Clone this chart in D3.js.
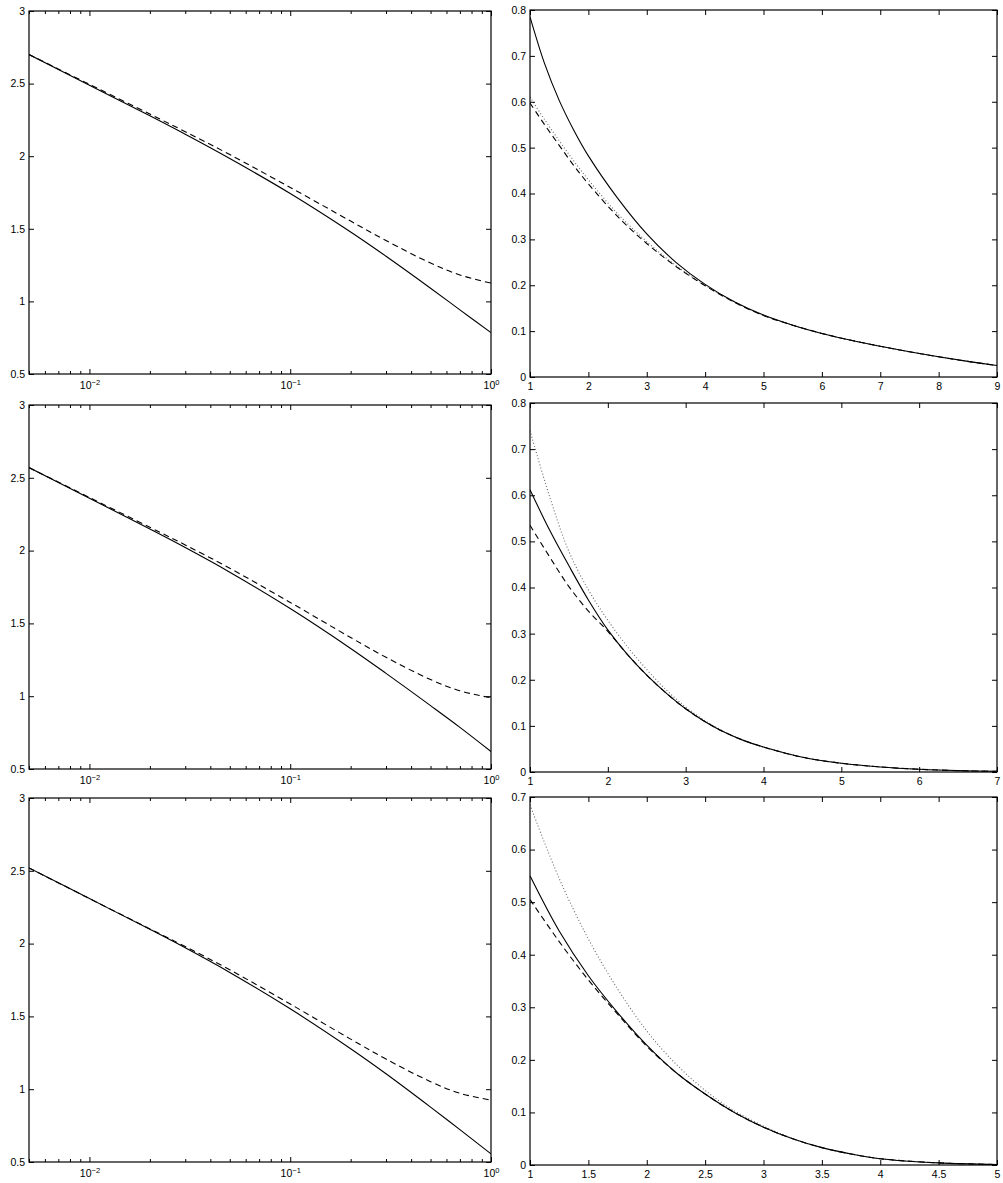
<!DOCTYPE html>
<html>
<head>
<meta charset="utf-8">
<script src="https://cdn.jsdelivr.net/npm/d3@7"></script>
<style>
body { margin: 0; background: #fff; }
</style>
</head>
<body>
<div id="fig"></div>
<script>
// ---- data ----
// left column: log x axis
var logX = [0.005, 0.01, 0.02, 0.03, 0.05, 0.1, 0.2, 0.3, 0.5, 0.7, 1];
var left1Solid  = [2.70, 2.489, 2.278, 2.151, 1.984, 1.743, 1.478, 1.311, 1.091, 0.942, 0.785];
var left1Dashed = [2.70, 2.495, 2.290, 2.169, 2.011, 1.785, 1.553, 1.419, 1.264, 1.182, 1.126];
var left2Solid  = [2.57, 2.359, 2.148, 2.021, 1.852, 1.602, 1.328, 1.157, 0.935, 0.786, 0.62];
var left2Dashed = [2.57, 2.365, 2.160, 2.039, 1.879, 1.644, 1.403, 1.267, 1.114, 1.037, 0.989];
var left3Solid  = [2.52, 2.309, 2.098, 1.971, 1.802, 1.552, 1.278, 1.106, 0.877, 0.722, 0.556];
var left3Dashed = [2.52, 2.309, 2.101, 1.980, 1.820, 1.585, 1.344, 1.207, 1.052, 0.972, 0.925];
var leftYTicks = [0.5, 1, 1.5, 2, 2.5, 3];
var leftXTicks = [0.01, 0.1, 1];
var leftXExp = ["\u22122", "\u22121", "0"];

// right column: linear x axis
var right1X      = [1, 1.25, 1.5, 1.75, 2, 2.5, 3, 3.5, 4, 4.5, 5, 5.5, 6, 6.5, 7, 7.5, 8, 8.5, 9];
var right1Solid  = [0.785, 0.683, 0.603, 0.538, 0.482, 0.39, 0.312, 0.25, 0.202, 0.164, 0.135, 0.113, 0.095, 0.08, 0.067, 0.055, 0.044, 0.034, 0.025];
var right1Dashed = [0.597, 0.55, 0.505, 0.461, 0.421, 0.35, 0.291, 0.241, 0.199, 0.163, 0.134, 0.113, 0.095, 0.08, 0.067, 0.055, 0.044, 0.034, 0.025];
var right1Dotted = [0.61, 0.561, 0.515, 0.471, 0.43, 0.356, 0.295, 0.243, 0.2, 0.164, 0.134, 0.113, 0.095, 0.08, 0.067, 0.055, 0.044, 0.034, 0.025];
var right1XTicks = [1, 2, 3, 4, 5, 6, 7, 8, 9];
var right1YTicks = [0, 0.1, 0.2, 0.3, 0.4, 0.5, 0.6, 0.7, 0.8];

var right2X      = [1, 1.25, 1.5, 1.75, 2, 2.25, 2.5, 2.75, 3, 3.25, 3.5, 3.75, 4, 4.5, 5, 5.5, 6, 6.5, 7];
var right2Solid  = [0.612, 0.525, 0.447, 0.373, 0.308, 0.255, 0.21, 0.171, 0.137, 0.109, 0.086, 0.068, 0.054, 0.032, 0.019, 0.011, 0.006, 0.003, 0.0015];
var right2Dashed = [0.535, 0.467, 0.402, 0.349, 0.305, 0.255, 0.21, 0.171, 0.137, 0.109, 0.086, 0.068, 0.054, 0.032, 0.019, 0.011, 0.006, 0.003, 0.0015];
var right2Dotted = [0.74, 0.598, 0.478, 0.395, 0.329, 0.272, 0.222, 0.178, 0.141, 0.111, 0.087, 0.068, 0.054, 0.032, 0.019, 0.011, 0.006, 0.003, 0.0015];
var right2XTicks = [1, 2, 3, 4, 5, 6, 7];
var right2YTicks = [0, 0.1, 0.2, 0.3, 0.4, 0.5, 0.6, 0.7, 0.8];

var right3X      = [1, 1.25, 1.5, 1.75, 2, 2.25, 2.5, 2.75, 3, 3.25, 3.5, 3.75, 4, 4.5, 5];
var right3Solid  = [0.55, 0.445, 0.36, 0.29, 0.228, 0.176, 0.135, 0.1, 0.072, 0.05, 0.033, 0.021, 0.012, 0.004, 0.001];
var right3Dashed = [0.505, 0.425, 0.352, 0.287, 0.226, 0.176, 0.135, 0.1, 0.072, 0.05, 0.033, 0.021, 0.012, 0.004, 0.001];
var right3Dotted = [0.685, 0.545, 0.43, 0.335, 0.255, 0.192, 0.142, 0.103, 0.074, 0.05, 0.033, 0.021, 0.012, 0.004, 0.001];
var right3XTicks = [1, 1.5, 2, 2.5, 3, 3.5, 4, 4.5, 5];
var right3YTicks = [0, 0.1, 0.2, 0.3, 0.4, 0.5, 0.6, 0.7];

const FONT = "'Liberation Sans', Arial, Helvetica, sans-serif";
const STYLES = {
	solid:  {color: "#000", width: 1.1, dash: null},
	dashed: {color: "#000", width: 1.1, dash: "6,4"},
	dotted: {color: "#666", width: 1.1, dash: "1,2.2"}
};

var svg = d3.select("#fig")
	.append("svg")
	.attr("width", 1003)
	.attr("height", 1183);

var clipCount = 0;

function styleAxis(sel) {
	sel.attr("font-family", FONT).attr("font-size", 10.5);
	sel.select(".domain").remove();
	sel.selectAll(".tick line").attr("stroke", "#000");
}

function drawPanel(cfg) {
	var b = cfg.box;
	var x = (cfg.log ? d3.scaleLog() : d3.scaleLinear())
		.domain(cfg.xDomain)
		.range([b.l, b.r]);
	var y = d3.scaleLinear()
		.domain(cfg.yDomain)
		.range([b.b, b.t]);

	var id = "clip" + (clipCount++);
	svg.append("clipPath").attr("id", id)
		.append("rect")
		.attr("x", b.l).attr("y", b.t)
		.attr("width", b.r - b.l).attr("height", b.b - b.t);

	// curves
	var line = d3.line()
		.x(d => x(d[0]))
		.y(d => y(d[1]))
		.curve(d3.curveCatmullRom.alpha(0.5));
	cfg.series.forEach(function(s) {
		var st = STYLES[s.style];
		svg.append("path")
			.datum(d3.zip(cfg.xs, s.values))
			.attr("clip-path", "url(#" + id + ")")
			.attr("fill", "none")
			.attr("stroke", st.color)
			.attr("stroke-width", st.width)
			.attr("stroke-dasharray", st.dash)
			.attr("d", line);
	});

	var fmt = d3.format("~g");

	// bottom axis
	var bottom = svg.append("g")
		.attr("transform", "translate(0," + b.b + ")")
		.call(d3.axisBottom(x)
			.tickValues(cfg.xTicks)
			.tickSizeInner(-5)
			.tickSizeOuter(0)
			.tickPadding(cfg.log ? 8 : 6)
			.tickFormat(cfg.log ? () => "" : fmt))
		.call(styleAxis);

	if (cfg.log) {
		// 10 with superscript exponent
		bottom.selectAll(".tick text").each(function(d, i) {
			var t = d3.select(this);
			t.append("tspan").text("10");
			t.append("tspan")
				.attr("dy", "-0.6em")
				.attr("font-size", 7.5)
				.text(cfg.xExp[i]);
		});
		var minor = [];
		[0.001, 0.01, 0.1].forEach(function(dec) {
			for (var k = 2; k <= 9; k++) {
				var v = k * dec;
				if (v >= cfg.xDomain[0] && v <= cfg.xDomain[1]) minor.push(v);
			}
		});
		svg.append("g")
			.attr("transform", "translate(0," + b.b + ")")
			.call(d3.axisBottom(x).tickValues(minor).tickSizeInner(-3).tickSizeOuter(0).tickFormat(() => ""))
			.call(styleAxis);
		svg.append("g")
			.attr("transform", "translate(0," + b.t + ")")
			.call(d3.axisTop(x).tickValues(minor).tickSizeInner(-3).tickSizeOuter(0).tickFormat(() => ""))
			.call(styleAxis);
	}

	// top mirror ticks
	svg.append("g")
		.attr("transform", "translate(0," + b.t + ")")
		.call(d3.axisTop(x).tickValues(cfg.xTicks).tickSizeInner(-5).tickSizeOuter(0).tickFormat(() => ""))
		.call(styleAxis);

	// left axis
	svg.append("g")
		.attr("transform", "translate(" + b.l + ",0)")
		.call(d3.axisLeft(y)
			.tickValues(cfg.yTicks)
			.tickSizeInner(-5)
			.tickSizeOuter(0)
			.tickPadding(4)
			.tickFormat(fmt))
		.call(styleAxis);

	// right mirror ticks
	svg.append("g")
		.attr("transform", "translate(" + b.r + ",0)")
		.call(d3.axisRight(y).tickValues(cfg.yTicks).tickSizeInner(-5).tickSizeOuter(0).tickFormat(() => ""))
		.call(styleAxis);

	// box
	svg.append("rect")
		.attr("x", b.l).attr("y", b.t)
		.attr("width", b.r - b.l).attr("height", b.b - b.t)
		.attr("fill", "none")
		.attr("stroke", "#000")
		.attr("stroke-width", 1.2);
}

var leftRows = [[11, 374], [405, 769], [798, 1162]];
var rightRows = [[10, 377], [403, 772], [797, 1165]];

var leftSeries = [
	[left1Solid, left1Dashed],
	[left2Solid, left2Dashed],
	[left3Solid, left3Dashed]
];
leftSeries.forEach(function(s, i) {
	drawPanel({
		box: {l: 29, r: 491, t: leftRows[i][0], b: leftRows[i][1]},
		log: true,
		xDomain: [0.005, 1],
		yDomain: [0.5, 3],
		xs: logX,
		xTicks: leftXTicks,
		xExp: leftXExp,
		yTicks: leftYTicks,
		series: [
			{values: s[0], style: "solid"},
			{values: s[1], style: "dashed"}
		]
	});
});

var rightCfg = [
	{xs: right1X, xDomain: [1, 9], yDomain: [0, 0.8], xTicks: right1XTicks, yTicks: right1YTicks,
		vals: [right1Dotted, right1Dashed, right1Solid]},
	{xs: right2X, xDomain: [1, 7], yDomain: [0, 0.8], xTicks: right2XTicks, yTicks: right2YTicks,
		vals: [right2Dotted, right2Dashed, right2Solid]},
	{xs: right3X, xDomain: [1, 5], yDomain: [0, 0.7], xTicks: right3XTicks, yTicks: right3YTicks,
		vals: [right3Dotted, right3Dashed, right3Solid]}
];
rightCfg.forEach(function(c, i) {
	drawPanel({
		box: {l: 530, r: 997, t: rightRows[i][0], b: rightRows[i][1]},
		log: false,
		xDomain: c.xDomain,
		yDomain: c.yDomain,
		xs: c.xs,
		xTicks: c.xTicks,
		yTicks: c.yTicks,
		series: [
			{values: c.vals[0], style: "dotted"},
			{values: c.vals[1], style: "dashed"},
			{values: c.vals[2], style: "solid"}
		]
	});
});
</script>
</body>
</html>
